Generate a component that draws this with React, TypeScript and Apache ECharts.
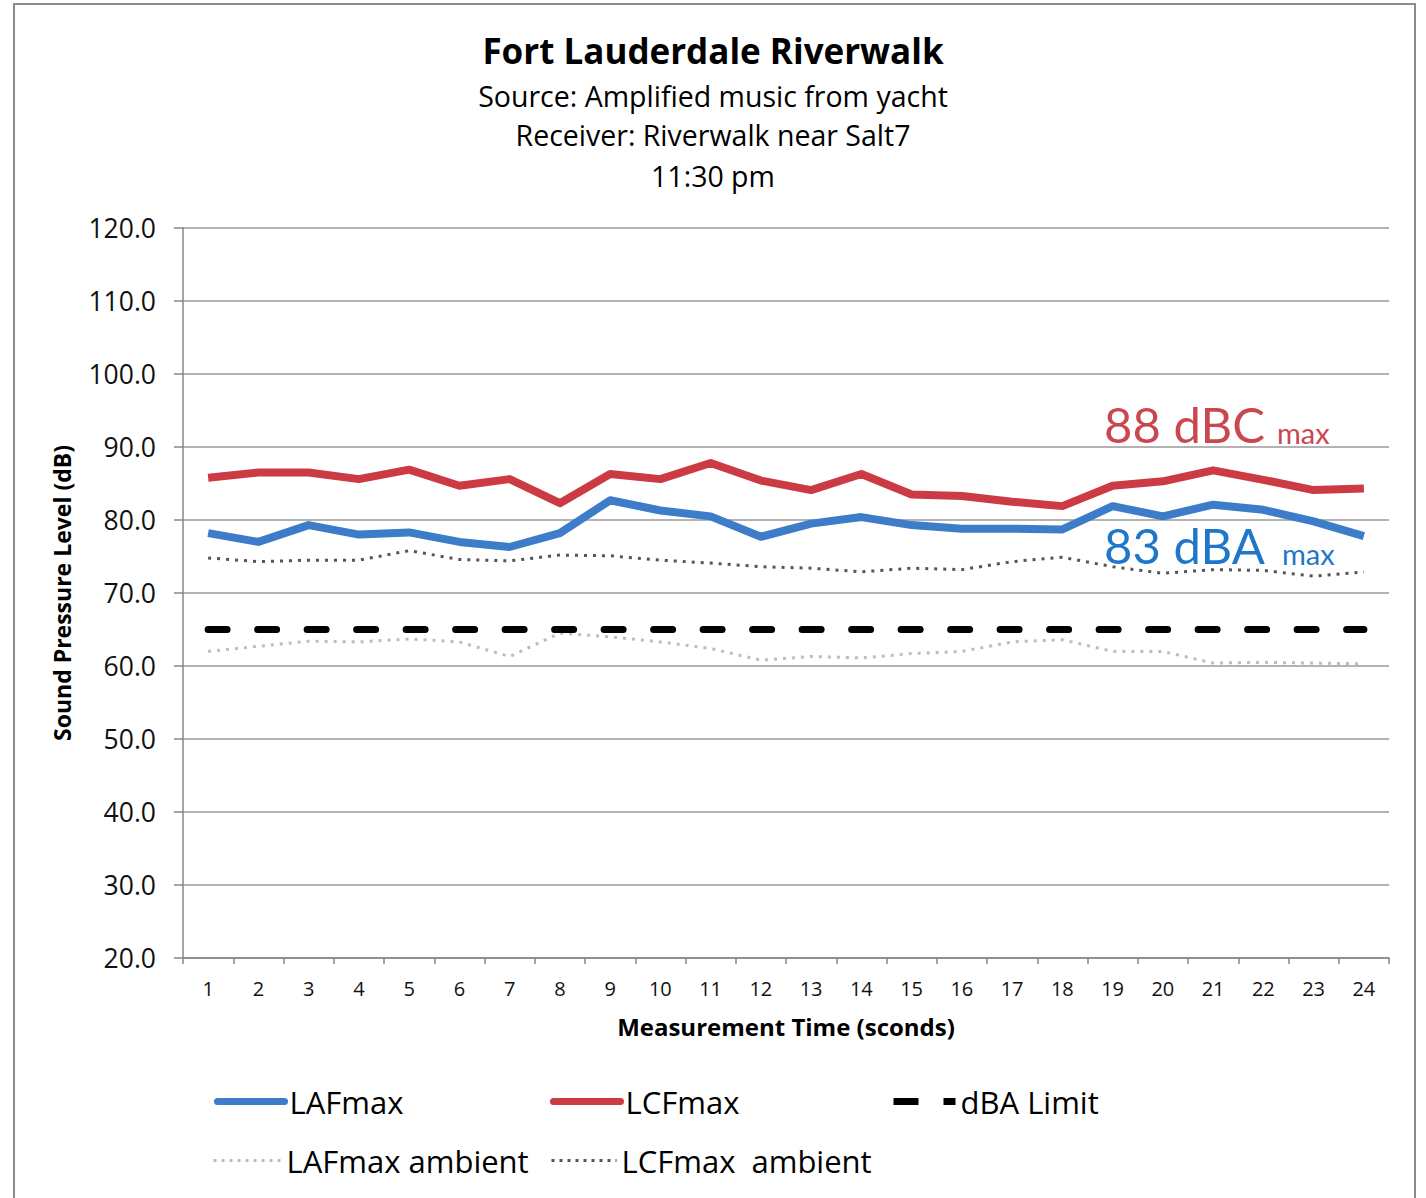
import React, { useEffect, useRef } from 'react';
import * as echarts from 'echarts';

const categories = ['1', '2', '3', '4', '5', '6', '7', '8', '9', '10', '11', '12', '13', '14', '15', '16', '17', '18', '19', '20', '21', '22', '23', '24'];
const lafMax = [78.2, 77.0, 79.3, 78.0, 78.3, 77.0, 76.3, 78.2, 82.7, 81.3, 80.5, 77.7, 79.5, 80.4, 79.3, 78.8, 78.8, 78.7, 81.9, 80.5, 82.1, 81.4, 79.8, 77.8];
const lcfMax = [85.8, 86.5, 86.5, 85.6, 86.9, 84.7, 85.6, 82.3, 86.3, 85.6, 87.8, 85.4, 84.1, 86.3, 83.5, 83.3, 82.5, 81.9, 84.7, 85.3, 86.8, 85.5, 84.1, 84.3];
const lafAmbient = [62.0, 62.7, 63.4, 63.3, 63.7, 63.3, 61.3, 64.5, 64.0, 63.3, 62.4, 60.8, 61.3, 61.1, 61.7, 62.0, 63.3, 63.6, 62.0, 62.0, 60.4, 60.5, 60.4, 60.3];
const lcfAmbient = [74.8, 74.3, 74.5, 74.5, 75.8, 74.6, 74.4, 75.2, 75.1, 74.5, 74.1, 73.6, 73.4, 72.9, 73.4, 73.2, 74.3, 74.9, 73.6, 72.7, 73.2, 73.1, 72.3, 72.9];
const dbaLimit = [65, 65, 65, 65, 65, 65, 65, 65, 65, 65, 65, 65, 65, 65, 65, 65, 65, 65, 65, 65, 65, 65, 65, 65];
const yMin = 20;
const yMax = 120;
const yInterval = 10;

const titleText = 'Fort Lauderdale Riverwalk';
const subLines = ['Source: Amplified music from yacht', 'Receiver: Riverwalk near Salt7', '11:30 pm'];

const FONT = '"Open Sans", Lato, sans-serif';
const ANN_FONT = 'Lato, "Open Sans", sans-serif';
const BLUE = '#3d7cc9';
const RED = '#cc3a43';

export default function App() {
  const ref = useRef<HTMLDivElement>(null);
  useEffect(() => {
    if (!ref.current) return;
    const chart = echarts.init(ref.current, null, { renderer: 'svg' });
    const legendText = { fontSize: 31, fontFamily: FONT, color: '#000' };
    const hiddenSymbol = { color: 'rgba(0,0,0,0)', borderWidth: 0, opacity: 0 };
    const subTops = [78, 117, 158];
    chart.setOption({
      animation: false,
      backgroundColor: '#fff',
      textStyle: { fontFamily: FONT },
      title: [
        {
          text: titleText,
          left: 'center',
          top: 29,
          padding: 0,
          textStyle: { fontSize: 35, fontWeight: 'bold', color: '#000', fontFamily: FONT, lineHeight: 42 },
        },
        ...subLines.map((t, i) => ({
          text: t,
          left: 'center',
          top: subTops[i],
          padding: 0,
          textStyle: { fontSize: 28.5, fontWeight: 'normal', color: '#000', fontFamily: FONT, lineHeight: 36 },
        })),
      ],
      grid: { left: 183, right: 37, top: 228, bottom: 240, containLabel: false },
      xAxis: {
        type: 'category',
        data: categories,
        boundaryGap: true,
        name: 'Measurement Time (sconds)',
        nameLocation: 'middle',
        nameGap: 56,
        nameTextStyle: { fontSize: 24, fontWeight: 'bold', color: '#000', fontFamily: FONT },
        axisLine: { lineStyle: { color: '#868686', width: 1.5 } },
        axisTick: { show: true, alignWithLabel: false, interval: 0, length: 6, lineStyle: { color: '#868686', width: 1.5 } },
        axisLabel: { interval: 0, fontSize: 20, color: '#111', margin: 20, fontFamily: FONT },
      },
      yAxis: {
        type: 'value',
        min: yMin,
        max: yMax,
        interval: yInterval,
        name: 'Sound Pressure Level (dB)',
        nameLocation: 'middle',
        nameGap: 110,
        nameRotate: 90,
        nameTextStyle: { fontSize: 23, fontWeight: 'bold', color: '#000', fontFamily: FONT },
        axisLine: { show: true, lineStyle: { color: '#868686', width: 1.5 } },
        axisTick: { show: true, length: 9, lineStyle: { color: '#868686', width: 1.5 } },
        axisLabel: { fontSize: 26.5, color: '#111', margin: 27, fontFamily: FONT, formatter: (v: number) => v.toFixed(1) },
        splitLine: { show: true, lineStyle: { color: '#9a9a9a', width: 1.5 } },
      },
      legend: [
        { data: ['LAFmax'], left: 214, top: 1086, padding: 0, itemWidth: 67, itemHeight: 14, itemGap: 0, textStyle: legendText, itemStyle: hiddenSymbol, lineStyle: { width: 7, color: BLUE, type: 'solid', cap: 'round' } },
        { data: ['LCFmax'], left: 550, top: 1086, padding: 0, itemWidth: 67, itemHeight: 14, itemGap: 0, textStyle: legendText, itemStyle: hiddenSymbol, lineStyle: { width: 7, color: RED, type: 'solid', cap: 'round' } },
        { data: ['dBA Limit'], left: 890, top: 1086, padding: 0, itemWidth: 62, itemHeight: 14, itemGap: 0, textStyle: legendText, itemStyle: hiddenSymbol, lineStyle: { width: 7, color: '#000', type: [25, 25], cap: 'butt' } },
        { data: ['LAFmax ambient'], left: 212, top: 1145, padding: 0, itemWidth: 68, itemHeight: 14, itemGap: 0, textStyle: legendText, itemStyle: hiddenSymbol, lineStyle: { width: 3, color: '#bdbdbd', type: [3, 5] } },
        { data: ['LCFmax  ambient'], left: 550, top: 1145, padding: 0, itemWidth: 65, itemHeight: 14, itemGap: 0, textStyle: legendText, itemStyle: hiddenSymbol, lineStyle: { width: 3, color: '#555', type: [3, 5] } },
      ],
      series: [
        {
          name: 'LAFmax ambient', type: 'line', data: lafAmbient, symbol: 'none',
          lineStyle: { color: '#bdbdbd', width: 3, type: [3, 6] }, itemStyle: { color: '#bdbdbd' }, z: 2,
        },
        {
          name: 'LCFmax  ambient', type: 'line', data: lcfAmbient, symbol: 'none',
          lineStyle: { color: '#555', width: 3, type: [3, 6] }, itemStyle: { color: '#555' }, z: 2,
        },
        {
          name: 'dBA Limit', type: 'line', data: dbaLimit, symbol: 'none',
          lineStyle: { color: '#000', width: 7, type: [19, 30.5], cap: 'round' }, itemStyle: { color: '#000' }, z: 3,
        },
        {
          name: 'LCFmax', type: 'line', data: lcfMax, symbol: 'none',
          lineStyle: { color: RED, width: 8, join: 'round' }, itemStyle: { color: RED }, z: 4,
        },
        {
          name: 'LAFmax', type: 'line', data: lafMax, symbol: 'none',
          lineStyle: { color: BLUE, width: 8, join: 'round' }, itemStyle: { color: BLUE }, z: 5,
        },
      ],
      graphic: [
        {
          type: 'rect', silent: true, z: -1,
          shape: { x: 14, y: 4, width: 1401, height: 1220 },
          style: { fill: 'none', stroke: '#8c8c8c', lineWidth: 2 },
        },
        {
          type: 'text', x: 1104, y: 424, z: 10,
          style: { text: '88 dBC', font: `49px ${ANN_FONT}`, fill: '#c9474f', verticalAlign: 'middle' },
        },
        {
          type: 'text', x: 1277, y: 432, z: 10,
          style: { text: 'max', font: `29px ${ANN_FONT}`, fill: '#c9474f', verticalAlign: 'middle' },
        },
        {
          type: 'text', x: 1104, y: 545, z: 10,
          style: { text: '83 dBA', font: `49px ${ANN_FONT}`, fill: '#1f77c9', verticalAlign: 'middle' },
        },
        {
          type: 'text', x: 1282, y: 553, z: 10,
          style: { text: 'max', font: `29px ${ANN_FONT}`, fill: '#1f77c9', verticalAlign: 'middle' },
        },
      ],
    });
    return () => chart.dispose();
  }, []);
  return <div ref={ref} style={{ position: 'absolute', left: 0, top: 0, width: 1426, height: 1198 }} />;
}
